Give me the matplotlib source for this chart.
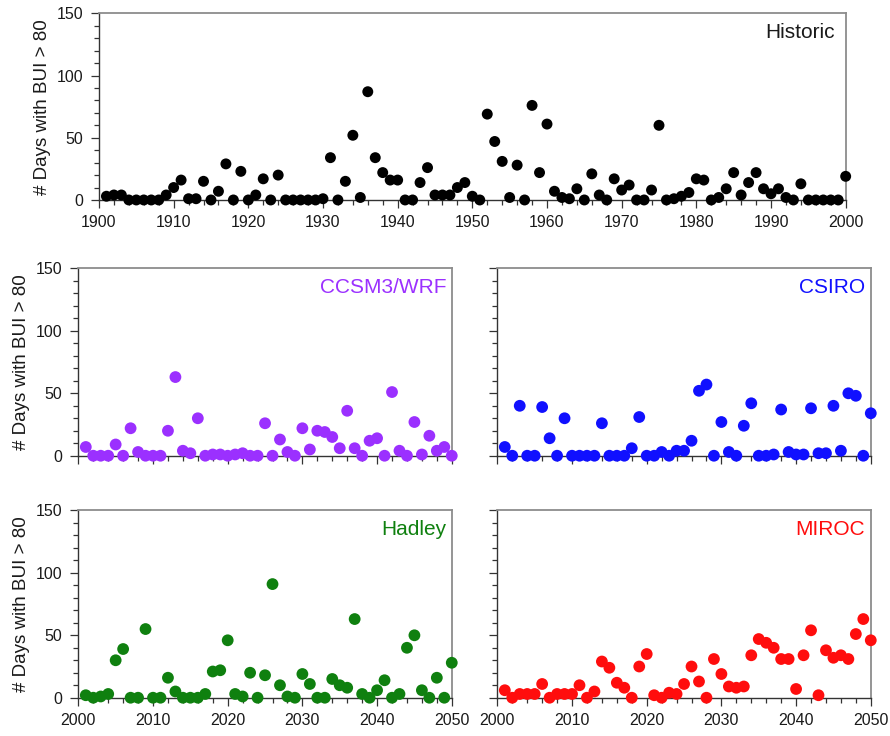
import matplotlib
matplotlib.use("Agg")
import matplotlib.pyplot as plt
from matplotlib.ticker import MultipleLocator

plt.rcParams['font.family'] = ['Liberation Sans', 'DejaVu Sans']

# Historic record, 1901-2000
hist_years = list(range(1901, 2001))
hist_days = [3, 4, 4, 0, 0, 0, 0, 0, 4, 10,
             16, 1, 1, 15, 0, 7, 29, 0, 23, 0,
             4, 17, 0, 20, 0, 0, 0, 0, 0, 1,
             34, 0, 15, 52, 2, 87, 34, 22, 16, 16,
             0, 0, 14, 26, 4, 4, 4, 10, 14, 3,
             0, 69, 47, 31, 2, 28, 0, 76, 22, 61,
             7, 2, 1, 9, 0, 21, 4, 0, 17, 8,
             12, 0, 0, 8, 60, 0, 1, 3, 6, 17,
             16, 0, 2, 9, 22, 4, 14, 22, 9, 5,
             9, 2, 0, 13, 0, 0, 0, 0, 0, 19]

# Model projections, 2001-2050
future_years = list(range(2001, 2051))
ccsm_days = [7, 0, 0, 0, 9, 0, 22, 3, 0, 0,
             0, 20, 63, 4, 2, 30, 0, 1, 1, 0,
             1, 2, 0, 0, 26, 0, 13, 3, 0, 22,
             5, 20, 19, 15, 6, 36, 6, 0, 12, 14,
             0, 51, 4, 0, 27, 1, 16, 4, 7, 0]
csiro_days = [7, 0, 40, 0, 0, 39, 14, 0, 30, 0,
              0, 0, 0, 26, 0, 0, 0, 6, 31, 0,
              0, 3, 0, 4, 4, 12, 52, 57, 0, 27,
              3, 0, 24, 42, 0, 0, 1, 37, 3, 1,
              1, 38, 2, 2, 40, 4, 50, 48, 0, 34]
hadley_days = [2, 0, 1, 3, 30, 39, 0, 0, 55, 0,
               0, 16, 5, 0, 0, 0, 3, 21, 22, 46,
               3, 1, 20, 0, 18, 91, 10, 1, 0, 19,
               11, 0, 0, 15, 10, 8, 63, 3, 0, 6,
               14, 0, 3, 40, 50, 6, 0, 16, 0, 28]
miroc_days = [6, 0, 3, 3, 3, 11, 0, 3, 3, 3,
              10, 0, 5, 29, 24, 12, 8, 0, 25, 35,
              2, 0, 4, 3, 11, 25, 13, 0, 31, 19,
              9, 8, 9, 34, 47, 44, 40, 31, 31, 7,
              34, 54, 2, 38, 32, 34, 31, 51, 63, 46]

YLABEL = "# Days with BUI > 80"


def style_axes(ax, xmin, xmax, show_xlabels=True, show_ylabels=True):
    ax.set_xlim(xmin, xmax)
    ax.set_ylim(0, 150)
    ax.xaxis.set_major_locator(MultipleLocator(10))
    ax.xaxis.set_minor_locator(MultipleLocator(2))
    ax.yaxis.set_major_locator(MultipleLocator(50))
    ax.yaxis.set_minor_locator(MultipleLocator(10))
    ax.tick_params(which="both", direction="out", colors="#333333",
                   labelsize=11.5, labelcolor="#1a1a1a", width=0.9)
    ax.tick_params(which="major", length=6)
    ax.tick_params(which="minor", length=3.5)
    ax.tick_params(axis="x", which="major", pad=5)
    ax.tick_params(axis="y", which="major", pad=5.5)
    for side in ("left", "bottom"):
        ax.spines[side].set_color("#333333")
        ax.spines[side].set_linewidth(1.0)
    for side in ("top", "right"):
        ax.spines[side].set_color("#8c8c8c")
        ax.spines[side].set_linewidth(1.3)
    if not show_xlabels:
        ax.tick_params(axis="x", labelbottom=False)
    if not show_ylabels:
        ax.tick_params(axis="y", labelleft=False)
    else:
        ax.set_ylabel(YLABEL, fontsize=13.5, color="#1a1a1a", labelpad=4)


def add_panel(fig, rect, years, days, color, name, xlim, size, **kw):
    ax = fig.add_axes(rect)
    ax.scatter(years, days, s=size, color=color, edgecolors="none",
               clip_on=False, zorder=3)
    style_axes(ax, *xlim, **kw)
    ax.text(0.985, 0.95, name, transform=ax.transAxes, ha="right", va="top",
            fontsize=15, color=color if color != "black" else "#1a1a1a")
    return ax


fig = plt.figure(figsize=(8.9, 7.36), dpi=100)

# top row: historic record across the full width
add_panel(fig, [0.1112, 0.7283, 0.839, 0.2536], hist_years, hist_days,
          "black", "Historic", (1900, 2000), 62)

# middle and bottom rows: the four model projections
w, h = 0.4196, 0.2545
add_panel(fig, [0.088, 0.3808, w, h], future_years, ccsm_days,
          "#9b30ff", "CCSM3/WRF", (2000, 2050), 72, show_xlabels=False)
add_panel(fig, [0.5588, 0.3808, w, h], future_years, csiro_days,
          "#1010ff", "CSIRO", (2000, 2050), 72,
          show_xlabels=False, show_ylabels=False)
add_panel(fig, [0.088, 0.052, w, h], future_years, hadley_days,
          "#0f800f", "Hadley", (2000, 2050), 72)
add_panel(fig, [0.5588, 0.052, w, h], future_years, miroc_days,
          "#ff0d0d", "MIROC", (2000, 2050), 72, show_ylabels=False)

fig.savefig("out.png", dpi=100, facecolor="white")
